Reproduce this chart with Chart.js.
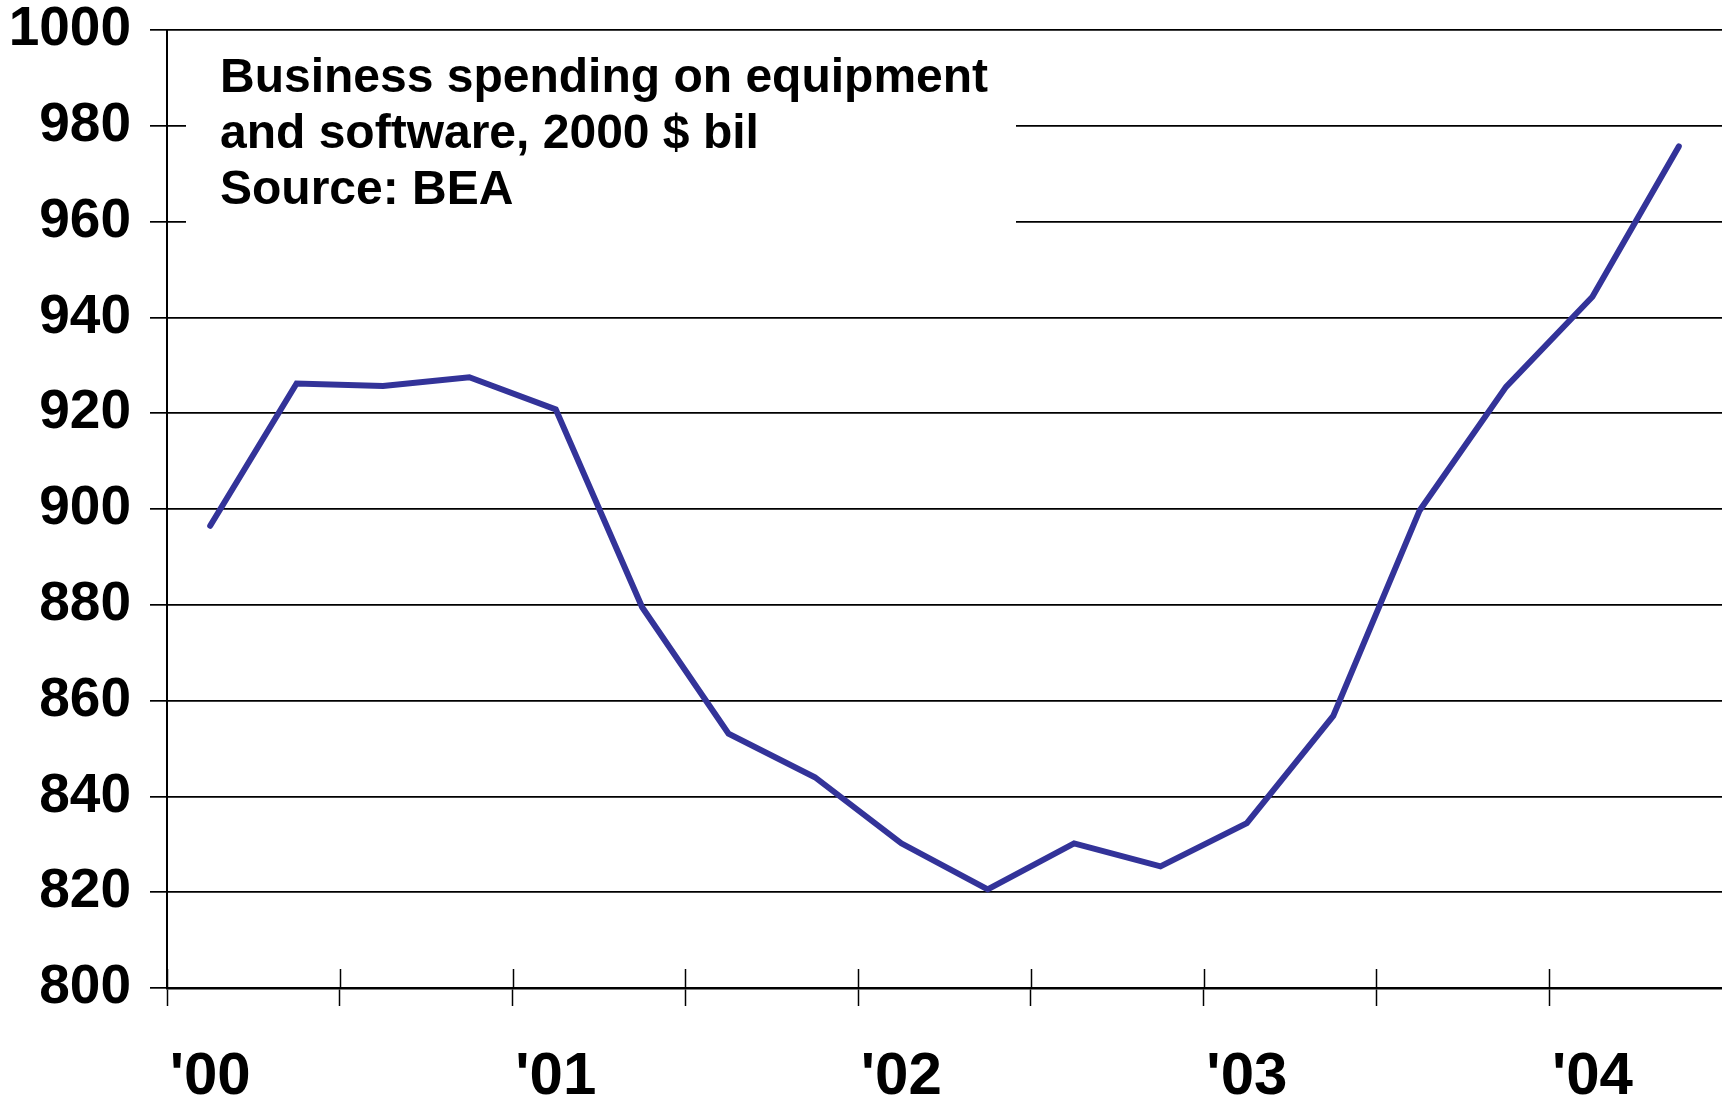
<!DOCTYPE html>
<html>
<head>
<meta charset="utf-8">
<script src="https://cdn.jsdelivr.net/npm/chart.js@4.4.1/dist/chart.umd.min.js"></script>
<style>
  html, body { margin: 0; padding: 0; background: #fff; }
  #wrap { width: 1722px; height: 1100px; }
</style>
</head>
<body>
<div id="wrap"><canvas id="spending" width="1722" height="1100"></canvas></div>
<script>
// quarterly, 2000 Q1 .. 2004 Q2
const quarters = [
  '2000 Q1', '2000 Q2', '2000 Q3', '2000 Q4',
  '2001 Q1', '2001 Q2', '2001 Q3', '2001 Q4',
  '2002 Q1', '2002 Q2', '2002 Q3', '2002 Q4',
  '2003 Q1', '2003 Q2', '2003 Q3', '2003 Q4',
  '2004 Q1', '2004 Q2',
];
const spending = [
  896.5, 926.2, 925.7, 927.5,
  920.8, 879.5, 853.1, 844.0,
  830.2, 820.6, 830.2, 825.4,
  834.4, 856.8, 899.7, 925.5,
  944.3, 975.7,
];
const yearLabels = ["'00", "'01", "'02", "'03", "'04"];
const yMin = 800;
const yMax = 1000;
const yStep = 20;
const noteLines = [
  'Business spending on equipment',
  'and software, 2000 $ bil',
  'Source: BEA',
];

const FONT = '"Liberation Sans", Arial, Helvetica, sans-serif';

// white note box over the upper grid lines + the short tick stubs above the x axis
const overlay = {
  id: 'overlay',
  beforeDatasetsDraw(chart) {
    const { ctx } = chart;
    const x = chart.scales.x;
    const y = chart.scales.y;
    ctx.save();
    ctx.fillStyle = '#fff';
    ctx.fillRect(186, 42, 830, 220);
    ctx.fillStyle = '#000';
    ctx.font = 'bold 48px ' + FONT;
    ctx.textBaseline = 'alphabetic';
    noteLines.forEach((t, i) => ctx.fillText(t, 220, 92 + i * 56));

    ctx.strokeStyle = '#000';
    ctx.lineWidth = 1.5;
    for (let i = 0; i < quarters.length; i += 2) {
      const px = Math.round(x.getPixelForValue(i - 0.5)) + 0.5;
      ctx.beginPath();
      ctx.moveTo(px, y.bottom);
      ctx.lineTo(px, y.bottom - 19);
      ctx.stroke();
    }
    ctx.restore();
  },
};

new Chart(document.getElementById('spending'), {
  type: 'line',
  data: {
    labels: quarters,
    datasets: [
      {
        data: spending,
        borderColor: 'rgb(51, 51, 153)',
        borderWidth: 6,
        borderCapStyle: 'round',
        pointRadius: 0,
        tension: 0,
        fill: false,
      },
    ],
  },
  options: {
    responsive: false,
    animation: false,
    layout: { padding: { top: 30, right: 0, bottom: 0, left: 0 } },
    plugins: {
      legend: { display: false },
      tooltip: { enabled: false },
    },
    scales: {
      x: {
        offset: true,
        afterFit: (scale) => { scale.height = 112; },
        grid: {
          offset: true,
          drawOnChartArea: false,
          tickLength: 18,
          tickWidth: 1.5,
          tickColor: (ctx) => (ctx.index % 2 === 0 ? '#000' : 'rgba(0,0,0,0)'),
        },
        border: { display: true, color: '#000', width: 2.5 },
        ticks: {
          autoSkip: false,
          maxRotation: 0,
          padding: 41,
          color: '#000',
          font: { family: FONT, size: 60, weight: 'bold', lineHeight: 1 },
          callback: (val, i) => (i % 4 === 0 ? yearLabels[i / 4] : ''),
        },
      },
      y: {
        min: yMin,
        max: yMax,
        afterFit: (scale) => {
          scale.width = 167;
          // tick padding would otherwise push the plot down
          scale.paddingTop = 0;
          scale.paddingBottom = 0;
        },
        grid: {
          color: '#000',
          lineWidth: 1.7,
          tickLength: 17,
        },
        border: { display: true, color: '#000', width: 2 },
        ticks: {
          stepSize: yStep,
          padding: 19,
          color: '#000',
          font: { family: FONT, size: 55, weight: 'bold', lineHeight: 1 },
          callback: (val) => String(val),
        },
      },
    },
  },
  plugins: [overlay],
});
</script>
</body>
</html>
